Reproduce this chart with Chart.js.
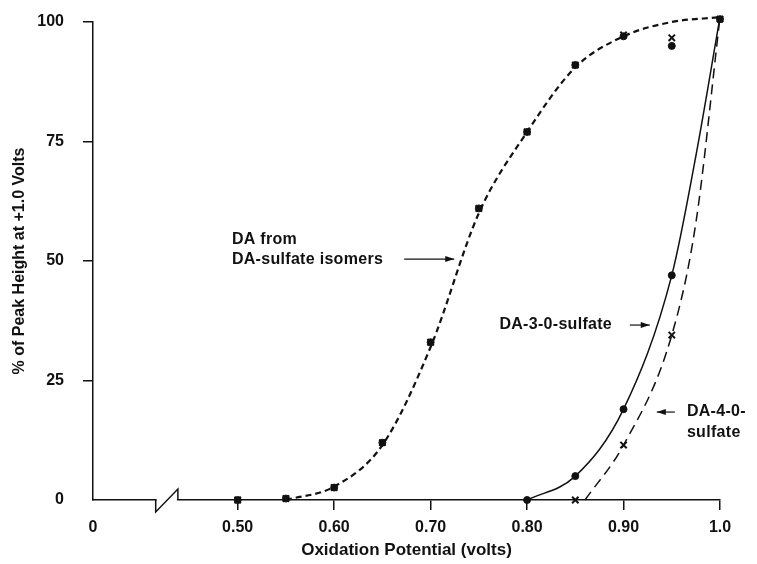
<!DOCTYPE html>
<html>
<head>
<meta charset="utf-8">
<script src="https://cdn.jsdelivr.net/npm/chart.js@4.4.1/dist/chart.umd.min.js"></script>
<style>
  body { margin: 0; background: #fff; }
  #wrap { width: 757px; height: 564px; }
</style>
</head>
<body>
<div id="wrap"><canvas id="myChart"></canvas></div>
<script>
// Axis ticks
let xTickValues = [0.35, 0.50, 0.60, 0.70, 0.80, 0.90, 1.0];
let xTickLabels = ['0', '0.50', '0.60', '0.70', '0.80', '0.90', '1.0'];
let yTickValues = [0, 25, 50, 75, 100];

// DA from DA-sulfate isomers (measured points)
let isoVolts = [0.50, 0.55, 0.60, 0.65, 0.70, 0.75, 0.80, 0.85, 0.90, 0.95, 1.0];
let isoDots = [0, 0.3, 2.6, 12, 33, 61, 77, 91, 97, 95, 100.6];
let isoCrosses = [0, 0.3, 2.6, 12, 33, 61, 77, 91, 97.3, 96.7, 100.6];
// fitted dotted curve
let isoCurveVolts = [0.55, 0.60, 0.65, 0.70, 0.75, 0.80, 0.85, 0.90, 0.95, 1.0];
let isoCurve = [0, 2.8, 11.5, 32, 60, 77, 90.5, 97, 100, 101];

// DA-3-O-sulfate (dots, solid curve)
let s3Volts = [0.80, 0.85, 0.90, 0.95];
let s3Values = [0, 5, 19, 47];
let s3CurveVolts = [0.80, 0.85, 0.90, 0.95, 0.975, 1.0];
let s3Curve = [0, 5, 19, 47, 72, 101];

// DA-4-O-sulfate (crosses, dashed curve)
let s4Volts = [0.85, 0.90, 0.95];
let s4Values = [0, 11.5, 34.5];
let s4CurveVolts = [0.86, 0.90, 0.95, 0.975, 1.0];
let s4Curve = [0, 11.5, 34.5, 58, 101];

// turn two arrays into {x, y} points
function pts(xs, ys) {
    return xs.map((x, i) => ({ x: x, y: ys[i] }));
}

const ink = '#111';
const fontFam = '"Liberation Sans", Arial, sans-serif';

// Axis break + text labels with arrows
const extras = {
    id: 'extras',
    afterDraw(chart) {
        const c = chart.ctx;
        const xs = chart.scales.x;
        const ys = chart.scales.y;
        const bottom = chart.chartArea.bottom;

        // break in the x axis
        const b1 = xs.getPixelForValue(0.415);
        const b2 = xs.getPixelForValue(0.438);
        c.save();
        c.fillStyle = '#fff';
        c.fillRect(b1 + 1, bottom - 3, b2 - b1 - 2, 6);
        c.strokeStyle = ink;
        c.lineWidth = 1.5;
        c.beginPath();
        c.moveTo(b1, bottom);
        c.lineTo(b1, bottom + 12);
        c.lineTo(b2, bottom - 11);
        c.lineTo(b2, bottom);
        c.stroke();

        // labels
        c.fillStyle = ink;
        c.font = 'bold 16px ' + fontFam;
        c.letterSpacing = '0.3px';
        c.textBaseline = 'middle';
        c.textAlign = 'left';
        const text = (s, x, y) => c.fillText(s, xs.getPixelForValue(x), ys.getPixelForValue(y));
        text('DA from', 0.494, 54.4);
        text('DA-sulfate isomers', 0.494, 50.2);
        text('DA-3-0-sulfate', 0.7713, 36.6);
        text('DA-4-0-', 0.9657, 18.4);
        text('sulfate', 0.9657, 14.0);

        // arrows
        const arrow = (x1, x2, y) => {
            const p1 = xs.getPixelForValue(x1);
            const p2 = xs.getPixelForValue(x2);
            const py = ys.getPixelForValue(y);
            const dir = p2 > p1 ? 1 : -1;
            c.lineWidth = 1.2;
            c.beginPath();
            c.moveTo(p1, py);
            c.lineTo(p2, py);
            c.stroke();
            c.beginPath();
            c.moveTo(p2, py);
            c.lineTo(p2 - dir * 9, py - 3);
            c.lineTo(p2 - dir * 9, py + 3);
            c.closePath();
            c.fill();
        };
        arrow(0.6726, 0.7245, 50.4);
        arrow(0.9065, 0.9272, 36.6);
        arrow(0.9532, 0.9345, 18.4);
        c.restore();
    }
};

let data = {
    datasets: [{
        label: 'DA from DA-sulfate isomers',
        data: pts(isoCurveVolts, isoCurve),
        borderColor: ink,
        borderWidth: 2.2,
        borderDash: [6, 4],
        cubicInterpolationMode: 'monotone',
        pointRadius: 0
    },
    {
        label: 'DA-3-O-sulfate',
        data: pts(s3CurveVolts, s3Curve),
        borderColor: ink,
        borderWidth: 1.5,
        cubicInterpolationMode: 'monotone',
        pointRadius: 0
    },
    {
        label: 'DA-4-O-sulfate',
        data: pts(s4CurveVolts, s4Curve),
        borderColor: ink,
        borderWidth: 1.5,
        borderDash: [10, 6],
        cubicInterpolationMode: 'monotone',
        pointRadius: 0
    },
    {
        label: 'isomers (dots)',
        data: pts(isoVolts, isoDots),
        showLine: false,
        pointStyle: 'circle',
        pointRadius: 3.5,
        backgroundColor: ink,
        borderColor: ink
    },
    {
        label: 'isomers (crosses)',
        data: pts(isoVolts, isoCrosses),
        showLine: false,
        pointStyle: 'crossRot',
        pointRadius: 4.5,
        pointBorderWidth: 2,
        borderColor: ink
    },
    {
        label: '3-O points',
        data: pts(s3Volts, s3Values),
        showLine: false,
        pointStyle: 'circle',
        pointRadius: 3.5,
        backgroundColor: ink,
        borderColor: ink
    },
    {
        label: '4-O points',
        data: pts(s4Volts, s4Values),
        showLine: false,
        pointStyle: 'crossRot',
        pointRadius: 4.5,
        pointBorderWidth: 2,
        borderColor: ink
    }]
};

const config = {
    type: 'line',
    data: data,
    plugins: [extras],
    options: {
        responsive: true,
        maintainAspectRatio: false,
        animation: false,
        clip: false,
        layout: { padding: { left: 0, top: 22, right: 37, bottom: 0 } },
        plugins: {
            legend: { display: false },
            tooltip: { enabled: false }
        },
        scales: {
            x: {
                type: 'linear',
                min: 0.35,
                max: 1.0,
                afterFit: (s) => { s.height = 64; s.paddingLeft = 0; s.paddingRight = 0; },
                afterBuildTicks: (s) => { s.ticks = xTickValues.map(v => ({ value: v })); },
                ticks: {
                    color: ink,
                    padding: 8,
                    font: { family: fontFam, size: 16, weight: 'bold' },
                    callback: (v) => xTickLabels[xTickValues.indexOf(v)]
                },
                grid: {
                    drawOnChartArea: false,
                    tickLength: 10,
                    lineWidth: 1.5,
                    color: (ctx) => ctx.tick && ctx.tick.value === 0.35 ? 'rgba(0,0,0,0)' : ink
                },
                border: { color: ink, width: 1.5 },
                title: {
                    display: true,
                    text: 'Oxidation Potential (volts)',
                    color: ink,
                    font: { family: fontFam, size: 17, weight: 'bold' },
                    padding: { top: 4, bottom: 3 }
                }
            },
            y: {
                min: 0,
                max: 100,
                afterFit: (s) => { s.width = 93; s.paddingTop = 0; s.paddingBottom = 0; },
                afterBuildTicks: (s) => { s.ticks = yTickValues.map(v => ({ value: v })); },
                ticks: {
                    color: ink,
                    padding: 19,
                    font: { family: fontFam, size: 16, weight: 'bold' }
                },
                grid: {
                    drawOnChartArea: false,
                    tickLength: 10,
                    lineWidth: 1.5,
                    color: (ctx) => ctx.tick && ctx.tick.value === 0 ? 'rgba(0,0,0,0)' : ink
                },
                border: { color: ink, width: 1.5 },
                title: {
                    display: true,
                    text: '% of Peak Height at +1.0 Volts',
                    color: ink,
                    font: { family: fontFam, size: 16, weight: 'bold' },
                    padding: { top: 10, bottom: 0 }
                }
            }
        }
    }
};

const theChart = new Chart(document.getElementById('myChart').getContext('2d'), config);
</script>
</body>
</html>
